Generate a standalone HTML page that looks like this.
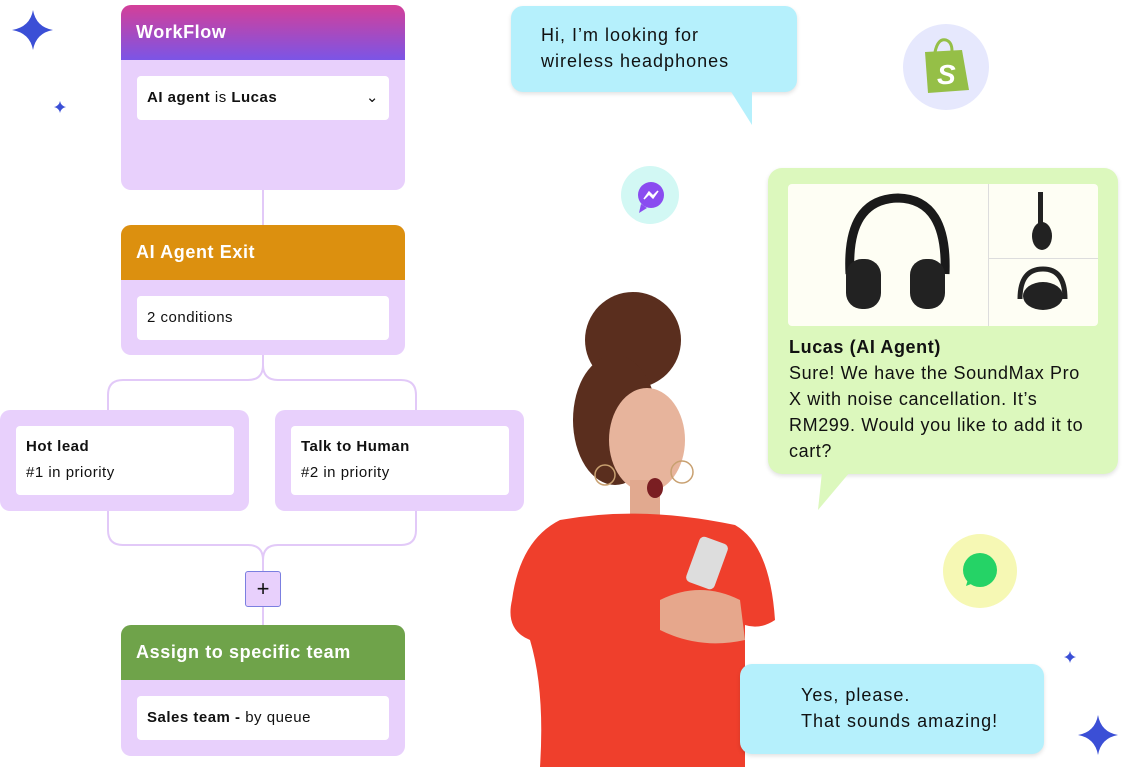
<!DOCTYPE html>
<html><head><meta charset="utf-8"><style>
body{margin:0;width:1128px;height:767px;background:#fff;position:relative;overflow:hidden;font-family:"Liberation Sans",sans-serif;color:#111}
.a{position:absolute}
.card{position:absolute;background:#e8d0fc;border-radius:10px;overflow:hidden}
.hd{height:55px;color:#fff;font-weight:bold;font-size:18px;line-height:55px;padding-left:15px;letter-spacing:.6px}
.inp{position:absolute;background:#fff;border-radius:4px;font-size:15px;line-height:44px;padding-left:10px;box-sizing:border-box;letter-spacing:.5px}
.bub{position:absolute;font-size:18px;line-height:26px;box-shadow:0 2px 4px rgba(0,0,0,.12);letter-spacing:1px}
</style></head><body>
<svg class="a" style="left:0;top:0" width="1128" height="767">
<g fill="none" stroke="#e2c9f8" stroke-width="2">
<path d="M263 190V225"/>
<path d="M263 355V365Q263 380 248 380H123Q108 380 108 395V410"/>
<path d="M263 365Q263 380 278 380H401Q416 380 416 395V410"/>
<path d="M108 511V530Q108 545 123 545H248Q263 545 263 560V571"/>
<path d="M416 511V530Q416 545 401 545H278Q263 545 263 560"/>
<path d="M263 607V625"/>
</g>
<g fill="#3b4fd6">
<path d="M33 10Q36 27 53 30Q36 33 33 50Q30 33 12 30Q30 27 33 10Z"/>
<path d="M60 101Q61 106 66 107Q61 108 60 113Q59 108 54 107Q59 106 60 101Z"/>
<path d="M1070 651Q1071 656 1076 657Q1071 658 1070 663Q1069 658 1064 657Q1069 656 1070 651Z"/>
<path d="M1098 715Q1101 732 1118 735Q1101 738 1098 755Q1095 738 1078 735Q1095 732 1098 715Z"/>
</g>
<circle cx="946" cy="67" r="43" fill="#e6e8fd"/>
<path d="M925 52L962 50L969 90L928 93Z" fill="#95bf47"/>
<path d="M935 52Q938 38 946 40Q952 42 952 51" fill="none" stroke="#95bf47" stroke-width="3"/>
<text x="937" y="84" font-size="28" font-weight="bold" font-style="italic" fill="#fff" font-family="Liberation Sans">S</text>
<circle cx="650" cy="195" r="29" fill="#d2f8f4"/>
<circle cx="651" cy="195" r="13" fill="#8a4cf0"/>
<path d="M641 204L639 213L647 208Z" fill="#8a4cf0"/>
<path d="M644 199L649 192L653 196L658 191L653 198L649 194Z" fill="#fff" stroke="#fff" stroke-width="1.5"/>
<circle cx="980" cy="571" r="37" fill="#f6f8b4"/>
<circle cx="980" cy="570" r="17" fill="#25d366"/>
<path d="M966 586L969 576L976 582Z" fill="#25d366"/>
<!-- woman -->
<circle cx="633" cy="340" r="48" fill="#5a2e1e"/>
<ellipse cx="615" cy="420" rx="42" ry="65" fill="#5a2e1e"/>
<ellipse cx="647" cy="440" rx="38" ry="52" fill="#e7b49c"/>
<rect x="630" y="480" width="30" height="40" fill="#e1a98f"/>
<ellipse cx="655" cy="488" rx="8" ry="10" fill="#7a1e22"/>
<circle cx="605" cy="475" r="10" fill="none" stroke="#c8a070" stroke-width="1.5"/>
<circle cx="682" cy="472" r="11" fill="none" stroke="#c8a070" stroke-width="1.5"/>
<path d="M560 520Q640 505 735 525Q770 545 775 620Q760 630 745 625L745 767H540Q545 690 530 640Q505 630 512 600Q520 540 560 520Z" fill="#ef3f2c"/>
<path d="M660 600Q700 580 740 600L745 640Q700 650 660 630Z" fill="#e6a78c"/>
<rect x="683" y="548" width="48" height="30" rx="5" fill="#ddd" transform="rotate(-70 707 563)"/>
</svg>

<div class="card" style="left:121px;top:5px;width:284px;height:185px">
<div class="hd" style="background:linear-gradient(#d43f98,#7b55e6)">WorkFlow</div>
<div class="inp" style="left:16px;top:71px;width:252px"><b style="font-weight:600">AI agent</b> is <b style="font-weight:600">Lucas</b><span class="a" style="right:10px;top:0">⌄</span></div>
</div>
<div class="card" style="left:121px;top:225px;width:284px;height:130px">
<div class="hd" style="background:#dc900f">AI Agent Exit</div>
<div class="inp" style="left:16px;top:71px;width:252px">2 conditions</div>
</div>
<div class="card" style="left:0;top:410px;width:249px;height:101px">
<div class="inp" style="left:16px;top:16px;width:218px;height:69px;line-height:26px;padding-top:8px"><b>Hot lead</b><br>#1 in priority</div>
</div>
<div class="card" style="left:275px;top:410px;width:249px;height:101px">
<div class="inp" style="left:16px;top:16px;width:218px;height:69px;line-height:26px;padding-top:8px"><b>Talk to Human</b><br>#2 in priority</div>
</div>
<div class="a" style="left:245px;top:571px;width:34px;height:34px;background:#e8d0fc;border:1px solid #7b7fe0;border-radius:3px;text-align:center;line-height:34px;font-size:22px">+</div>
<div class="card" style="left:121px;top:625px;width:284px;height:131px">
<div class="hd" style="background:#6fa34a">Assign to specific team</div>
<div class="inp" style="left:16px;top:71px;width:252px"><b>Sales team -</b> by queue</div>
</div>

<div class="bub" style="left:511px;top:6px;width:286px;height:86px;background:#b5f0fc;border-radius:12px;box-sizing:border-box;padding:16px 30px">Hi, I’m looking for<br>wireless headphones</div>
<svg class="a" style="left:725px;top:90px" width="40" height="40"><path d="M5 0L27 0L27 35Z" fill="#b5f0fc"/></svg>

<div class="bub" style="left:768px;top:168px;width:350px;height:306px;background:#dcf8bd;border-radius:14px">
<div class="a" style="left:20px;top:16px;width:310px;height:142px;background:#fefef4;border-radius:4px">
<div class="a" style="left:200px;top:0;width:1px;height:142px;background:#ddd"></div>
<div class="a" style="left:200px;top:74px;width:110px;height:1px;background:#ddd"></div>
<svg class="a" style="left:0;top:0" width="310" height="142">
<path d="M62 90Q58 15 110 14Q160 15 157 90" fill="none" stroke="#1a1a1a" stroke-width="9"/>
<rect x="58" y="75" width="35" height="50" rx="16" fill="#222"/>
<rect x="122" y="75" width="35" height="50" rx="16" fill="#222"/>
<rect x="250" y="8" width="5" height="40" fill="#222"/><ellipse cx="254" cy="52" rx="10" ry="14" fill="#222"/>
<path d="M232 115Q232 85 255 85Q277 85 277 115" fill="none" stroke="#222" stroke-width="5"/>
<ellipse cx="255" cy="112" rx="20" ry="14" fill="#222"/>
</svg></div>
<div class="a" style="left:21px;top:166px;width:300px;letter-spacing:.6px"><b>Lucas (AI Agent)</b><br>Sure! We have the SoundMax Pro X with noise cancellation. It’s RM299. Would you like to add it to cart?</div>
</div>
<svg class="a" style="left:810px;top:472px" width="50" height="42"><path d="M12 0L40 0L8 38Z" fill="#dcf8bd"/></svg>

<div class="bub" style="left:740px;top:664px;width:304px;height:90px;background:#b5f0fc;border-radius:12px;box-sizing:border-box;padding:18px 0 0 61px">Yes, please.<br>That sounds amazing!</div>
</body></html>
